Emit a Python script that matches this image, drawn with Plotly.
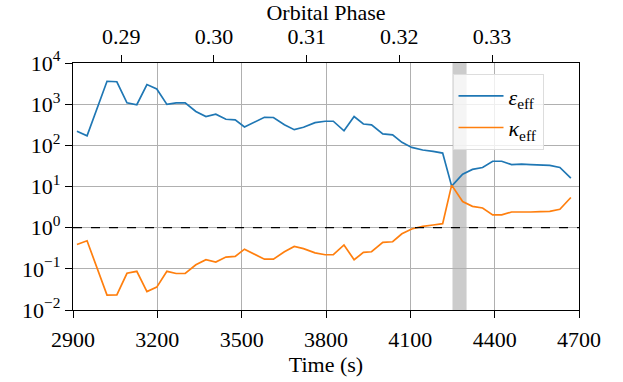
import plotly.graph_objects as go

time_s = [2914, 2950, 3021, 3056, 3092, 3127, 3163, 3198, 3234, 3267, 3299, 3337,
          3373, 3408, 3444, 3477, 3510, 3545, 3581, 3613, 3652, 3687, 3720, 3761,
          3797, 3826, 3864, 3900, 3933, 3962, 4002, 4037, 4070, 4105, 4144, 4181,
          4215, 4247, 4286, 4321, 4357, 4393, 4425, 4460, 4496, 4528, 4563, 4596,
          4632, 4671]
eps_eff = [220, 170, 3600, 3500, 1080, 970, 3000, 2330, 985, 1080, 1080, 665,
           500, 570, 430, 415, 280, 370, 480, 475, 315, 240, 275, 355,
           385, 385, 225, 500, 330, 315, 190, 180, 118, 89, 77, 71,
           65, 10.2, 20, 26, 29, 41, 41, 34, 35, 34, 33.5, 32.6,
           29, 16]
kappa_eff = [0.39, 0.48, 0.023, 0.0234, 0.078, 0.087, 0.028, 0.036, 0.087, 0.077, 0.077, 0.125,
             0.166, 0.146, 0.193, 0.20, 0.30, 0.224, 0.172, 0.172, 0.26, 0.35, 0.31, 0.245,
             0.22, 0.22, 0.38, 0.166, 0.25, 0.26, 0.44, 0.455, 0.71, 0.93, 1.08, 1.16,
             1.25, 10.8, 4.3, 3.3, 3.0, 2.04, 2.04, 2.4, 2.35, 2.4, 2.45, 2.5,
             2.8, 5.4]

x_ticks = [2900, 3200, 3500, 3800, 4100, 4400, 4700]
y_ticks = [1e-2, 1e-1, 1e0, 1e1, 1e2, 1e3, 1e4]
y_ticktext = ["10<sup>−2</sup>", "10<sup>−1</sup>", "10<sup>0</sup>", "10<sup>1</sup>",
              "10<sup>2</sup>", "10<sup>3</sup>", "10<sup>4</sup>"]
phase_ticks = [0.29, 0.30, 0.31, 0.32, 0.33]
phase_range = [0.28480, 0.339373]
time_range = [2900, 4700]
band = [4250, 4300]
ref_level = 1.0

FONT = "Liberation Serif"
TF = dict(family=FONT, size=22, color="black")

fig = go.Figure()
fig.add_trace(go.Scatter(x=time_s, y=eps_eff, mode="lines", name="<i>ε</i><sub>eff</sub>",
                         line=dict(color="#1f77b4", width=1.7)))
fig.add_trace(go.Scatter(x=time_s, y=kappa_eff, mode="lines", name="<i>κ</i><sub>eff</sub>",
                         line=dict(color="#ff7f0e", width=1.7)))
# carrier for the top (orbital phase) axis, draws nothing
fig.add_trace(go.Scatter(x=phase_range, y=[None, None], xaxis="x2", yaxis="y",
                         mode="lines", showlegend=False, hoverinfo="skip"))

fig.add_shape(type="rect", xref="x", yref="paper", x0=band[0], x1=band[1], y0=0, y1=1,
              fillcolor="#cccccc", line=dict(width=0), layer="below")
fig.add_shape(type="line", xref="paper", yref="y", x0=0, x1=1, y0=ref_level, y1=ref_level,
              line=dict(color="black", width=1.2, dash="dash"))

fig.update_layout(
    width=623, height=382,
    margin=dict(l=73, r=44, t=63, b=72),
    paper_bgcolor="white", plot_bgcolor="white",
    font=TF,
    showlegend=True,
    legend=dict(x=0.75, y=0.955, xanchor="left", yanchor="top",
                bgcolor="rgba(255,255,255,0.8)", bordercolor="#dddddd", borderwidth=1,
                font=dict(family=FONT, size=22, color="black"), itemwidth=45,
                tracegroupgap=2),
    xaxis=dict(range=time_range, tickvals=x_ticks, ticks="outside", ticklen=7, tickwidth=1.2,
               tickcolor="black", showline=True, linecolor="black", linewidth=1.3, mirror=True,
               showgrid=True, gridcolor="#b0b0b0", gridwidth=1, zeroline=False,
               ticklabelstandoff=2, automargin=False,
               title=dict(text="Time (s)", standoff=4, font=TF), tickfont=TF),
    xaxis2=dict(range=phase_range, overlaying="x", side="top", tickvals=phase_ticks,
                tickformat=".2f", ticks="outside", ticklen=7, tickwidth=1.2, tickcolor="black",
                showgrid=False, showline=False, zeroline=False, ticklabelstandoff=2,
                automargin=False,
                title=dict(text="Orbital Phase", standoff=0, font=TF), tickfont=TF),
    yaxis=dict(type="log", range=[-2, 4], tickvals=y_ticks, ticktext=y_ticktext,
               ticks="outside", ticklen=7, tickwidth=1.2, tickcolor="black",
               showline=True, linecolor="black", linewidth=1.3, mirror=True,
               showgrid=True, gridcolor="#b0b0b0", gridwidth=1, zeroline=False,
               automargin=False, tickfont=TF),
)

fig.write_html("out.html")
